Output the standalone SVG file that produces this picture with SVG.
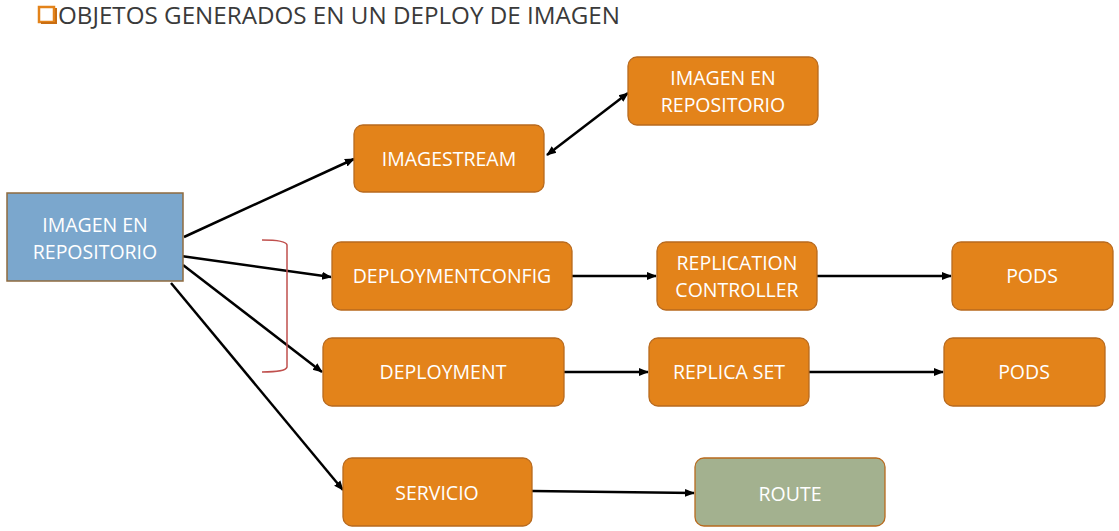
<svg xmlns="http://www.w3.org/2000/svg" width="1119" height="531" viewBox="0 0 1119 531">
<style>
.t{font-family:"Open Sans","Liberation Sans",sans-serif;fill:#fff;font-size:19.5px;text-anchor:middle}
.o{fill:#E3831A;stroke:#B86A1E;stroke-width:1.3}
.c{stroke:#000;stroke-width:2.5;fill:none;marker-end:url(#a)}
</style>
<defs>
<marker id="a" viewBox="0 0 10 10" refX="9" refY="5" markerWidth="4" markerHeight="4" orient="auto-start-reverse" markerUnits="strokeWidth"><path d="M0,1 L10,5 L0,9 z" fill="#000"/></marker>
</defs>
<rect width="1119" height="531" fill="#fff"/>
<g id="title">
<rect x="39" y="7" width="15" height="15" fill="#fff" stroke="#E3831A" stroke-width="2.5"/>
<path d="M41,23 L56,23 L56,8" stroke="#C96E12" stroke-width="2" fill="none"/>
<text x="58" y="24" font-family="'Open Sans','Liberation Sans',sans-serif" font-size="23" fill="#3A3A3A" textLength="562" lengthAdjust="spacingAndGlyphs">OBJETOS GENERADOS EN UN DEPLOY DE IMAGEN</text>
</g>
<g id="connectors">
<line class="c" x1="184" y1="237" x2="354" y2="159"/>
<line class="c" x1="181" y1="256" x2="331" y2="277"/>
<line class="c" x1="183" y1="265" x2="322" y2="372"/>
<line class="c" x1="171" y1="283" x2="343" y2="490"/>
<line class="c" x1="547" y1="155" x2="628" y2="93" marker-start="url(#a)"/>
<line class="c" x1="572" y1="276" x2="656" y2="276"/>
<line class="c" x1="817" y1="276" x2="951" y2="276"/>
<line class="c" x1="564" y1="372" x2="648" y2="372"/>
<line class="c" x1="809" y1="372" x2="943" y2="372"/>
<line class="c" x1="532" y1="491" x2="694" y2="493"/>
</g>
<g id="bracket">
<path d="M262,240 Q286,240 287,245 L287,367 Q286,372 262,372" fill="none" stroke="#C0504D" stroke-width="1.5"/>
</g>
<g id="source">
<rect x="7" y="193" width="176" height="88" fill="#7BA7CD" stroke="#8F6B3F" stroke-width="1.5"/>
<text class="t" x="95" y="232">IMAGEN EN</text>
<text class="t" x="95" y="259">REPOSITORIO</text>
</g>
<g id="imagestream"><rect class="o" x="354" y="125" width="190" height="67" rx="9"/><text class="t" x="449" y="166">IMAGESTREAM</text></g>
<g id="repo"><rect class="o" x="628" y="57" width="190" height="68" rx="9"/><text class="t" x="723" y="85">IMAGEN EN</text><text class="t" x="723" y="112">REPOSITORIO</text></g>
<g id="deploymentconfig"><rect class="o" x="332" y="242" width="240" height="68" rx="9"/><text class="t" x="452" y="283">DEPLOYMENTCONFIG</text></g>
<g id="rc"><rect class="o" x="657" y="242" width="160" height="68" rx="9"/><text class="t" x="737" y="270">REPLICATION</text><text class="t" x="737" y="297">CONTROLLER</text></g>
<g id="pods1"><rect class="o" x="952" y="242" width="161" height="68" rx="9"/><text class="t" x="1032" y="283">PODS</text></g>
<g id="deployment"><rect class="o" x="323" y="338" width="241" height="68" rx="9"/><text class="t" x="443" y="379">DEPLOYMENT</text></g>
<g id="rs"><rect class="o" x="649" y="338" width="160" height="68" rx="9"/><text class="t" x="729" y="379">REPLICA SET</text></g>
<g id="pods2"><rect class="o" x="944" y="338" width="161" height="68" rx="9"/><text class="t" x="1024" y="379">PODS</text></g>
<g id="servicio"><rect class="o" x="343" y="458" width="189" height="68" rx="9"/><text class="t" x="437" y="500">SERVICIO</text></g>
<g id="route"><rect x="695" y="458" width="190" height="68" rx="9" fill="#A3B18F" stroke="#B86A1E" stroke-width="1.3"/><text class="t" x="790" y="501">ROUTE</text></g>
</svg>
